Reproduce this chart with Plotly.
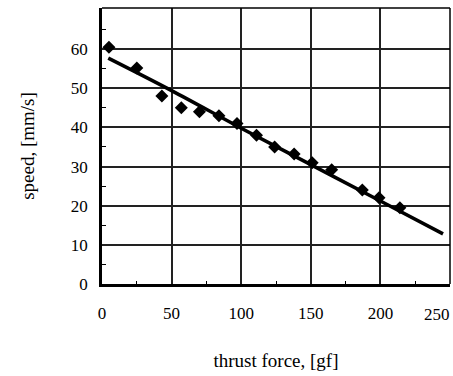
import plotly.graph_objects as go

force = [5, 25, 43, 57, 70, 84, 97, 111, 124, 138, 151, 165, 187, 199, 214]
speed = [60.5, 55.2, 48, 45, 44, 43, 41, 38, 35, 33.2, 31, 29.2, 24, 22, 19.5]
fit_x = [4.5, 50, 100, 150, 200, 245]
fit_y = [57.7, 49.4, 39.8, 30.5, 21.2, 12.8]
x_ticks = [0, 50, 100, 150, 200, 250]
y_ticks = [0, 10, 20, 30, 40, 50, 60]

serif = "Liberation Serif, Times New Roman, serif"
fig = go.Figure()
fig.add_trace(go.Scatter(x=fit_x, y=fit_y, mode="lines", line=dict(color="black", width=3.5, shape="spline"), showlegend=False))
fig.add_trace(go.Scatter(x=force, y=speed, mode="markers", marker=dict(symbol="diamond", size=10, color="black"), showlegend=False))

fig.update_layout(
    width=453, height=376,
    margin=dict(l=102, r=3, t=8, b=92),
    paper_bgcolor="white", plot_bgcolor="white",
    font=dict(family=serif, color="black", size=17),
    xaxis=dict(range=[0, 250], tickvals=x_ticks[:-1], showgrid=True, gridcolor="#222", gridwidth=1.5,
               showline=True, linecolor="black", linewidth=2.5, mirror=False, zeroline=False,
               ticks="", tickfont=dict(size=17, family=serif, color="black"), ticklabelstandoff=12,
               minor=dict(tickvals=[25, 75, 125, 175, 225], ticks="inside", ticklen=3, tickcolor="black", showgrid=False),
               title=dict(text="thrust force, [gf]", font=dict(size=19, family=serif, color="black"), standoff=32)),
    yaxis=dict(range=[0, 70.5], tickvals=y_ticks, showgrid=True, gridcolor="#222", gridwidth=1.5,
               showline=True, linecolor="black", linewidth=2.5, mirror=False, zeroline=False,
               ticks="", tickfont=dict(size=17, family=serif, color="black"), ticklabelstandoff=8,
               minor=dict(tickvals=[5, 15, 25, 35, 45, 55, 65], ticks="inside", ticklen=4, tickcolor="black", showgrid=False),
               title=dict(text="speed, [mm/s]", font=dict(size=19, family=serif, color="black"), standoff=32)),
    annotations=[dict(x=x_ticks[-1], y=0, xref="x", yref="paper", text=str(x_ticks[-1]), showarrow=False,
                      xanchor="right", yanchor="top", yshift=-19, xshift=2,
                      font=dict(size=17, family=serif, color="black"))],
    shapes=[dict(type="line", xref="paper", yref="paper", x0=0, x1=1, y0=1, y1=1, line=dict(color="black", width=1.5)),
            dict(type="line", xref="paper", yref="paper", x0=1, x1=1, y0=0, y1=1, line=dict(color="black", width=1.5))],
)
fig.write_html("out.html")
